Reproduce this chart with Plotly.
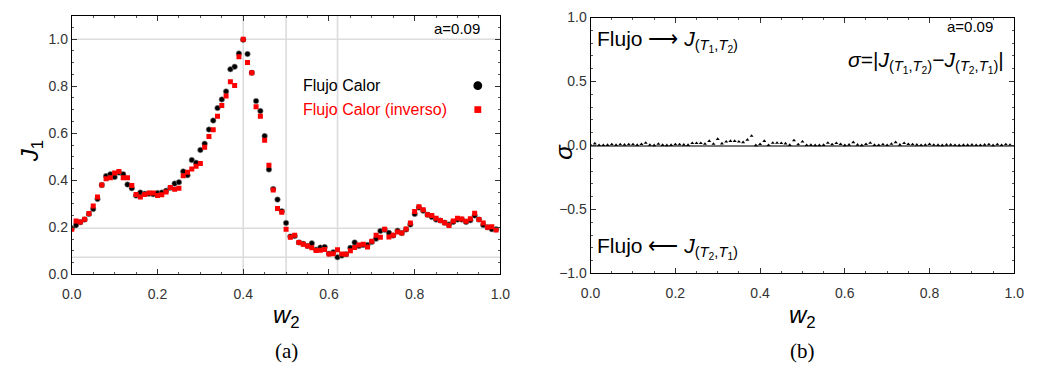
import plotly.graph_objects as go

W, H = 1039, 384

# ---------------- data ----------------
w2 = [i / 100 for i in range(100)]

J_flujo = [0.196, 0.210, 0.222, 0.233, 0.257, 0.278, 0.321, 0.380, 0.418, 0.426,
           0.414, 0.433, 0.426, 0.382, 0.366, 0.335, 0.348, 0.343, 0.343, 0.341,
           0.346, 0.348, 0.356, 0.368, 0.386, 0.392, 0.438, 0.422, 0.486, 0.475,
           0.529, 0.556, 0.616, 0.654, 0.707, 0.744, 0.778, 0.872, 0.883, 0.939,
           0.998, 0.937, 0.857, 0.737, 0.695, 0.588, 0.446, 0.363, 0.318, 0.269,
           0.219, 0.161, 0.163, 0.136, 0.130, 0.121, 0.132, 0.105, 0.114, 0.117,
           0.088, 0.094, 0.073, 0.080, 0.086, 0.113, 0.136, 0.121, 0.125, 0.125,
           0.138, 0.152, 0.185, 0.190, 0.177, 0.165, 0.186, 0.176, 0.191, 0.212,
           0.257, 0.284, 0.271, 0.254, 0.244, 0.233, 0.229, 0.220, 0.212, 0.223,
           0.233, 0.233, 0.223, 0.230, 0.250, 0.233, 0.210, 0.200, 0.192, 0.192]

J_inverso = [0.192, 0.227, 0.223, 0.235, 0.259, 0.291, 0.329, 0.380, 0.407, 0.411,
             0.431, 0.438, 0.411, 0.411, 0.378, 0.340, 0.329, 0.340, 0.346, 0.346,
             0.335, 0.339, 0.350, 0.370, 0.362, 0.366, 0.419, 0.434, 0.448, 0.460,
             0.472, 0.541, 0.586, 0.615, 0.672, 0.718, 0.758, 0.819, 0.803, 0.925,
             1.000, 0.901, 0.857, 0.713, 0.672, 0.570, 0.464, 0.359, 0.280, 0.264,
             0.192, 0.158, 0.166, 0.136, 0.128, 0.121, 0.113, 0.102, 0.103, 0.106,
             0.087, 0.088, 0.105, 0.087, 0.086, 0.101, 0.114, 0.125, 0.128, 0.117,
             0.141, 0.166, 0.158, 0.192, 0.159, 0.166, 0.180, 0.176, 0.193, 0.219,
             0.268, 0.288, 0.275, 0.254, 0.250, 0.239, 0.229, 0.220, 0.208, 0.227,
             0.239, 0.236, 0.226, 0.237, 0.260, 0.233, 0.219, 0.200, 0.203, 0.189]

sigma = [0.005, 0.015, 0.003, 0.003, 0.004, 0.008, 0.004, 0.008, 0.006, 0.008,
         0.008, 0.004, 0.010, 0.020, 0.005, 0.002, 0.012, 0.004, 0.002, 0.004,
         0.008, 0.008, 0.006, 0.004, 0.018, 0.018, 0.018, 0.012, 0.035, 0.012,
         0.050, 0.015, 0.030, 0.035, 0.035, 0.030, 0.025, 0.045, 0.075, 0.002,
         0.010, 0.035, 0.003, 0.020, 0.020, 0.018, 0.015, 0.004, 0.040, 0.008,
         0.030, 0.003, 0.004, 0.002, 0.002, 0.004, 0.020, 0.008, 0.018, 0.010,
         0.002, 0.006, 0.025, 0.006, 0.002, 0.010, 0.020, 0.004, 0.003, 0.008,
         0.003, 0.012, 0.025, 0.006, 0.018, 0.010, 0.008, 0.006, 0.003, 0.005,
         0.010, 0.005, 0.004, 0.002, 0.006, 0.006, 0.003, 0.002, 0.004, 0.004,
         0.006, 0.003, 0.003, 0.006, 0.008, 0.002, 0.008, 0.003, 0.008, 0.005]

grid_x_left = [0.4, 0.5, 0.62]
grid_y_left = [0.073, 0.196, 1.0]

legend_labels = ["Flujo Calor", "Flujo Calor (inverso)"]
param_label = "a=0.09"

# ---------------- helpers ----------------
def px(x):
    return x / W

def py(y):
    return 1 - y / H

FONT = "Liberation Sans, Arial, sans-serif"
SERIF = "Liberation Serif, DejaVu Serif, serif"

fig = go.Figure()

fig.add_trace(go.Scatter(x=w2, y=J_flujo, mode="markers", xaxis="x", yaxis="y",
                         marker=dict(symbol="circle", size=5.5, color="black",
                                     line=dict(width=0.6, color="#888")),
                         showlegend=False))
fig.add_trace(go.Scatter(x=w2, y=J_inverso, mode="markers", xaxis="x", yaxis="y",
                         marker=dict(symbol="square", size=5, color="#ff0000",
                                     line=dict(width=0)),
                         showlegend=False))
fig.add_trace(go.Scatter(x=w2, y=sigma, mode="markers", xaxis="x2", yaxis="y2",
                         marker=dict(symbol="triangle-up", size=3.5, color="black",
                                     line=dict(width=0)),
                         showlegend=False))

tickfont = dict(family=FONT, size=14, color="#333")

def xaxis_cfg(domain, anchor):
    return dict(domain=domain, anchor=anchor, range=[0, 1.0], dtick=0.2, tick0=0,
                tickformat=".1f", ticks="inside", ticklen=5, tickwidth=1,
                tickcolor="#333", showline=True, linecolor="black", linewidth=1,
                mirror="ticks", showgrid=False, zeroline=False, tickfont=tickfont,
                ticklabelstandoff=7,
                minor=dict(ticks="inside", ticklen=2.5, dtick=0.05, tickcolor="#555",
                           showgrid=False))

fig.update_layout(
    width=W, height=H,
    margin=dict(l=0, r=0, t=0, b=0),
    paper_bgcolor="white", plot_bgcolor="white",
    xaxis=xaxis_cfg([px(63), px(500)], "y"),
    yaxis=dict(domain=[py(278), py(8)], anchor="x", range=[0, 1.1], dtick=0.2,
               tick0=0, tickformat=".1f", ticks="inside", ticklen=5, tickwidth=1,
               tickcolor="#333", showline=True, linecolor="black", linewidth=1,
               mirror="ticks", showgrid=False, zeroline=False, tickfont=tickfont,
               minor=dict(ticks="inside", ticklen=2.5, dtick=0.05, tickcolor="#555",
                          showgrid=False)),
    xaxis2=xaxis_cfg([px(592), px(1024)], "y2"),
    yaxis2=dict(domain=[py(277), py(10)], anchor="x2", range=[-1, 1], dtick=0.5,
                tick0=0, tickformat=".1f", ticks="inside", ticklen=5, tickwidth=1,
                tickcolor="#333", showline=True, linecolor="black", linewidth=1,
                mirror="ticks", showgrid=False, zeroline=True, zerolinecolor="#777",
                zerolinewidth=1.5, tickfont=tickfont,
                minor=dict(ticks="inside", ticklen=2.5, dtick=0.1, tickcolor="#555",
                           showgrid=False)),
)

shapes = []
for gx in grid_x_left:
    shapes.append(dict(type="line", xref="x", yref="y domain", x0=gx, x1=gx, y0=0, y1=1,
                       line=dict(color="#dcdcdc", width=1.6), layer="below"))
for gy in grid_y_left:
    shapes.append(dict(type="line", xref="x domain", yref="y", x0=0, x1=1, y0=gy, y1=gy,
                       line=dict(color="#dcdcdc", width=1.6), layer="below"))
# legend glyphs
shapes.append(dict(type="circle", xref="paper", yref="paper",
                   x0=px(472.5), x1=px(481.5), y0=py(85.5), y1=py(76.5),
                   fillcolor="black", line=dict(width=0)))
shapes.append(dict(type="rect", xref="paper", yref="paper",
                   x0=px(473.5), x1=px(480.5), y0=py(109.5), y1=py(102.5),
                   fillcolor="#ff0000", line=dict(width=0)))
fig.update_layout(shapes=shapes)

ann = []
def A(text, x, y, size, color="black", family=FONT, xanchor="center", angle=0):
    ann.append(dict(text=text, x=px(x), y=py(y), xref="paper", yref="paper",
                    showarrow=False, xanchor=xanchor, yanchor="middle",
                    textangle=angle, font=dict(family=family, size=size, color=color)))

A("<i>J</i><sub>1</sub>", 22, 150, 24, angle=-90)
A("<i>w</i><sub>2</sub>", 282, 322, 24)
A("(a)", 282, 358, 21, family=SERIF)
A("<i>σ</i>", 565, 150, 24, angle=-90)
A("<i>w</i><sub>2</sub>", 808, 322, 24)
A("(b)", 808, 358, 21, family=SERIF)

A(param_label, 481, 21, 15, xanchor="right")
A(param_label, 1004, 19, 15, xanchor="right")

A(legend_labels[0], 297, 81, 16, xanchor="left")
A(legend_labels[1], 297, 106, 16, color="#ff0000", xanchor="left")

A("Flujo ⟶ <i>J</i><sub>(<i>T</i><sub>1</sub>,<i>T</i><sub>2</sub>)</sub>", 596, 34, 21, xanchor="left")
A("<i>σ</i>=|<i>J</i><sub>(<i>T</i><sub>1</sub>,<i>T</i><sub>2</sub>)</sub>−<i>J</i><sub>(<i>T</i><sub>2</sub>,<i>T</i><sub>1</sub>)</sub>|",
  1016, 56, 21, xanchor="right")
A("Flujo ⟵ <i>J</i><sub>(<i>T</i><sub>2</sub>,<i>T</i><sub>1</sub>)</sub>", 596, 250, 21, xanchor="left")

fig.update_layout(annotations=ann)

fig.write_html("out.html")
